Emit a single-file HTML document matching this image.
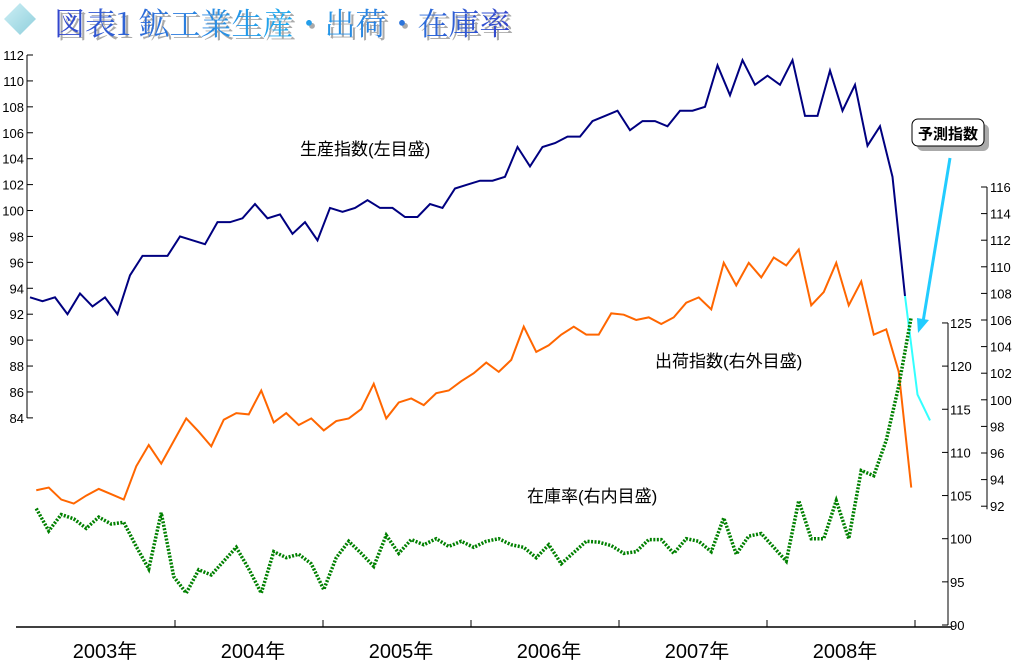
<!DOCTYPE html>
<html><head><meta charset="utf-8"><style>
body{margin:0;background:#fff;}
svg{display:block;font-family:"Liberation Sans","Noto Sans CJK JP",sans-serif;}
</style></head><body>
<svg width="1014" height="661" viewBox="0 0 1014 661" xmlns="http://www.w3.org/2000/svg">
<defs>
<linearGradient id="tg" x1="0" y1="0" x2="1" y2="0"><stop offset="0" stop-color="#3344cc"/><stop offset="0.5" stop-color="#22aaee"/><stop offset="1" stop-color="#3344cc"/></linearGradient>
<linearGradient id="dg" x1="0" y1="0" x2="1" y2="1"><stop offset="0" stop-color="#cdeff5"/><stop offset="1" stop-color="#8fcfdc"/></linearGradient>
</defs>
<g>
<polygon points="20,3 36,19 20,35 4,19" fill="url(#dg)"/>
<text x="57" y="38" font-size="31" fill="#aaa" font-family="'Noto Serif CJK SC','Liberation Serif',serif">図表1 鉱工業生産・出荷・在庫率</text>
<text x="54" y="35" font-size="31" fill="url(#tg)" font-family="'Noto Serif CJK SC','Liberation Serif',serif">図表1 鉱工業生産・出荷・在庫率</text>
</g>
<g id="axes"></g>
<g id="marks"></g>
<g>
<rect x="917" y="124" width="72" height="27" rx="6" fill="#aaa"/>
<rect x="912" y="119" width="72" height="27" rx="6" fill="#fff" stroke="#000"/>
<text x="948" y="139" font-size="15" font-weight="bold" text-anchor="middle">予測指数</text>
<line x1="950" y1="158" x2="923" y2="322" stroke="#22ccff" stroke-width="3"/>
<polygon points="918,333 917,318 929,320" fill="#22ccff"/>
</g>
<text x="300" y="155" font-size="17">生産指数(左目盛)</text>
<text x="655" y="367" font-size="17">出荷指数(右外目盛)</text>
<text x="527" y="502" font-size="17">在庫率(右内目盛)</text>
</svg>
<script>
const years=["2003年","2004年","2005年","2006年","2007年","2008年"];
const leftTicks=[112,110,108,106,104,102,100,98,96,94,92,90,88,86,84];
const innerTicks=[125,120,115,110,105,100,95,90];
const outerTicks=[116,114,112,110,108,106,104,102,100,98,96,94,92];
const production=[93.3,93.0,93.3,92.0,93.6,92.6,93.3,92.0,95.0,96.5,96.5,96.5,
98.0,97.7,97.4,99.1,99.1,99.4,100.5,99.4,99.7,98.2,99.1,97.7,
100.2,99.9,100.2,100.8,100.2,100.2,99.5,99.5,100.5,100.2,101.7,102.0,
102.3,102.3,102.6,104.9,103.4,104.9,105.2,105.7,105.7,106.9,107.3,107.7,
106.2,106.9,106.9,106.5,107.7,107.7,108.0,111.2,108.9,111.6,109.7,110.4,
109.7,111.6,107.3,107.3,110.8,107.7,109.7,105.0,106.5,102.6,93.4];
const forecast=[93.4,85.8,83.8];
const shipments=[93.2,93.4,92.5,92.2,92.8,93.3,92.9,92.5,95.0,96.6,95.2,96.9,
98.6,97.6,96.5,98.5,99.0,98.9,100.7,98.3,99.0,98.1,98.6,97.7,
98.4,98.6,99.3,101.2,98.6,99.8,100.1,99.6,100.5,100.7,101.4,102.0,
102.8,102.1,103.0,105.5,103.6,104.1,104.9,105.5,104.9,104.9,106.5,106.4,
106.0,106.2,105.7,106.2,107.3,107.7,106.8,110.3,108.6,110.3,109.2,110.7,
110.1,111.3,107.1,108.1,110.3,107.1,108.9,104.9,105.3,102.1,93.4];
const inventory=[103.5,100.9,102.8,102.3,101.2,102.5,101.7,101.9,99.1,96.5,103.0,95.6,
93.7,96.4,95.8,97.4,99.0,96.5,93.7,98.5,97.8,98.2,97.1,94.1,
97.8,99.7,98.3,96.8,100.4,98.3,99.9,99.3,100.0,99.1,99.7,99.0,
99.7,100.0,99.3,99.0,97.8,99.3,97.1,98.4,99.7,99.6,99.2,
98.3,98.5,99.9,99.9,98.3,100.0,99.7,98.5,102.4,98.2,100.3,100.6,
99.0,97.4,104.4,100.0,100.0,104.4,100.0,107.9,107.3,111.4,117.7,125.7];
const NS="http://www.w3.org/2000/svg";
const xm=m=>30+m*12.5;
const yL=v=>55+(112-v)*12.96;
const yO=v=>187+(116-v)*13.3;
const yI=v=>625-(v-90)*8.63;
const axes=document.getElementById('axes'),marks=document.getElementById('marks');
function mk(tag,at,parent){const e=document.createElementNS(NS,tag);for(const k in at)e.setAttribute(k,at[k]);parent.appendChild(e);return e;}
let la=mk('line',{x1:27,y1:55,x2:27,y2:418,stroke:'#000'},axes);


leftTicks.forEach(v=>{mk('line',{x1:27,y1:yL(v),x2:33,y2:yL(v),stroke:'#000'},axes);
const t=mk('text',{x:24,y:yL(v)+5,'font-size':13,'text-anchor':'end'},axes);t.textContent=v;

});
let xa=mk('line',{x1:16,y1:627,x2:952,y2:627,stroke:'#000','stroke-width':1.5},axes);


years.forEach((y,i)=>{const bx=175+i*148;mk('line',{x1:bx,y1:620,x2:bx,y2:627,stroke:'#000'},axes);
const t=mk('text',{x:bx-70,y:658,'font-size':20,'text-anchor':'middle'},axes);t.textContent=y;

});
let ia=mk('line',{x1:948,y1:yI(125),x2:948,y2:yI(90),stroke:'#000'},axes);


innerTicks.forEach(v=>{mk('line',{x1:942,y1:yI(v),x2:948,y2:yI(v),stroke:'#000'},axes);
const t=mk('text',{x:950,y:yI(v)+5,'font-size':13},axes);t.textContent=v;

});
let oa=mk('line',{x1:987,y1:yO(116),x2:987,y2:yO(92)+3,stroke:'#000'},axes);


outerTicks.forEach(v=>{mk('line',{x1:981,y1:yO(v),x2:987,y2:yO(v),stroke:'#000'},axes);
const t=mk('text',{x:990,y:yO(v)+5,'font-size':13},axes);t.textContent=v;

});
function line(arr,yf,off,attrs,name){const p=mk('polyline',Object.assign({points:arr.map((v,i)=>xm(i+off)+','+yf(v)).join(' '),fill:'none'},attrs),marks);

}
line(production,yL,0,{stroke:'#000080','stroke-width':2},'production-line');
line(forecast,yL,70,{stroke:'#33ffff','stroke-width':2},'forecast-line');
line(shipments,yO,0.5,{stroke:'#ff6600','stroke-width':2},'shipment-line');
line(inventory,yI,0.5,{stroke:'#008000','stroke-width':3.5,'stroke-dasharray':'2,1.5'},'inventory-line');
</script>
</body></html>
